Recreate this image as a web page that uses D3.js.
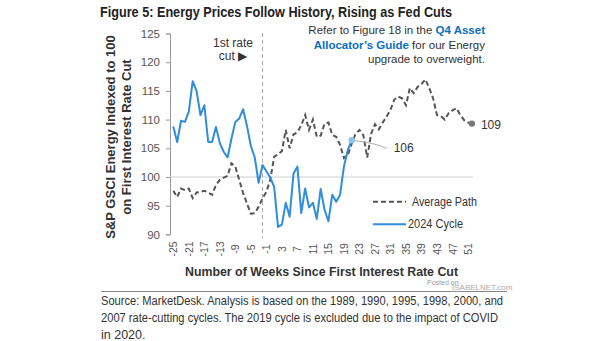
<!DOCTYPE html>
<html>
<head>
<meta charset="utf-8">
<script src="https://cdn.jsdelivr.net/npm/d3@7"></script>
<style>
  body { margin: 0; background: #fff; }
  svg { display: block; font-family: "Liberation Sans", Arial, sans-serif; }
</style>
</head>
<body>
<div id="chart"></div>
<script>
// Data -----------------------------------------------------------------------
const firstWeek = -25;
const avgPath = [
  97.6, 96.5, 98.0, 97.7, 98.0, 96.3, 97.3, 97.4, 97.6, 97.3,
  96.9, 98.6, 99.5, 99.9, 100.2, 102.4, 101.8, 99.5, 97.2, 95.4,
  93.6, 93.7, 94.8, 96.3, 97.4, 99.5, 103.5, 104.0, 104.5, 108.2,
  105.0, 107.4, 107.8, 109.0, 110.8, 108.2, 110.0, 107.0, 107.2, 109.3,
  109.5, 107.3, 107.0, 105.6, 103.3, 103.8, 105.8, 107.5, 108.2, 107.3,
  103.4, 107.5, 109.2, 108.3, 109.5, 110.5, 111.7, 113.5, 114.0, 113.7,
  112.5, 115.5, 114.6, 115.7, 116.2, 117.0, 115.5, 113.7, 110.8, 110.6,
  110.0, 111.1, 111.6, 112.0, 110.8, 109.9, 109.5, 109.3
];
const cycle2024 = [
  108.8, 106.1, 109.8, 109.6, 111.4, 116.7, 115.0, 110.8, 112.5, 106.1,
  106.1, 108.7, 105.9, 104.4, 103.4, 106.7, 109.6, 110.2, 111.8, 108.9,
  105.4, 103.4, 99.0, 102.1, 101.0, 99.9, 98.3, 91.3, 91.7, 95.5,
  93.1, 100.6, 101.8, 93.7, 98.0, 94.7, 95.5, 92.7, 97.9, 94.3,
  92.3, 96.9, 95.7, 96.9, 101.8, 104.7, 106.4
];
const xTicks = [-25, -21, -17, -13, -9, -5, -1, 3, 7, 11, 15, 19, 23, 27, 31, 35, 39, 43, 47, 51];
const yTicks = [90, 95, 100, 105, 110, 115, 120, 125];
const cutWeek = -2;
const seriesNames = ["Average Path", "2024 Cycle"];

// Canvas ---------------------------------------------------------------------
const width = 605;
const height = 341;
const blue = "#2f8ddb";
const grey = "#555";

const svg = d3.select("#chart")
  .append("svg")
  .attr("width", width)
  .attr("height", height);

const xScale = d3.scaleLinear().domain([-25, 52]).range([173.3, 471.9]);
const yScale = d3.scaleLinear().domain([90, 125]).range([234.4, 33.5]);

const toPoints = arr => arr.map((v, i) => ({ week: firstWeek + i, value: v }));
const avgData = toPoints(avgPath);
const cycleData = toPoints(cycle2024);

// Title ----------------------------------------------------------------------
svg.append("text")
  .text("Figure 5: Energy Prices Follow History, Rising as Fed Cuts")
  .attr("x", 100)
  .attr("y", 16.5)
  .attr("textLength", 352)
  .attr("lengthAdjust", "spacingAndGlyphs")
  .style("font-size", "14px")
  .style("font-weight", "bold")
  .style("fill", "#222");

// Axes -----------------------------------------------------------------------
const yAxis = svg.append("g")
  .attr("transform", "translate(170,0)")
  .call(d3.axisLeft(yScale).tickValues(yTicks).tickSize(4).tickPadding(6));
yAxis.select(".domain").attr("stroke", "#999");
yAxis.selectAll(".tick line").attr("stroke", "#999");
yAxis.selectAll("text")
  .style("font-size", "11.5px")
  .style("fill", "#555")
  .style("font-family", "'Liberation Sans', Arial, sans-serif");

svg.append("g")
  .selectAll("text")
  .data(xTicks)
  .join("text")
  .text(d => d)
  .attr("transform", d => "translate(" + xScale(d) + ",249) rotate(-90)")
  .attr("text-anchor", "middle")
  .attr("dominant-baseline", "central")
  .style("font-size", "10.5px")
  .style("fill", "#555");

svg.append("text")
  .text("Number of Weeks Since First Interest Rate Cut")
  .attr("x", 185)
  .attr("y", 276)
  .attr("textLength", 273)
  .attr("lengthAdjust", "spacingAndGlyphs")
  .style("font-size", "13px")
  .style("font-weight", "bold")
  .style("fill", "#333");

const yLabel = svg.append("text")
  .attr("transform", "translate(0,137) rotate(-90)")
  .attr("text-anchor", "middle")
  .style("font-size", "13px")
  .style("font-weight", "bold")
  .style("fill", "#333");
yLabel.append("tspan").attr("x", 0).attr("y", 115).text("S&P GSCI Energy Indexed to 100");
yLabel.append("tspan").attr("x", 0).attr("y", 131).text("on First Interest Rate Cut");

// Reference lines ------------------------------------------------------------
svg.append("line")
  .attr("x1", 170).attr("x2", xScale(52) + 1)
  .attr("y1", yScale(100)).attr("y2", yScale(100))
  .attr("stroke", "#cfcfcf")
  .attr("stroke-width", 1);

svg.append("line")
  .attr("x1", xScale(cutWeek)).attr("x2", xScale(cutWeek))
  .attr("y1", 33).attr("y2", 238)
  .attr("stroke", "#aaa")
  .attr("stroke-width", 1)
  .attr("stroke-dasharray", "4,3");

// Lines ----------------------------------------------------------------------
const line = d3.line()
  .x(d => xScale(d.week))
  .y(d => yScale(d.value));

svg.append("path")
  .datum(avgData)
  .attr("d", line)
  .attr("fill", "none")
  .attr("stroke", grey)
  .attr("stroke-width", 2)
  .attr("stroke-dasharray", "5,3");

svg.append("path")
  .datum(cycleData)
  .attr("d", line)
  .attr("fill", "none")
  .attr("stroke", blue)
  .attr("stroke-width", 2)
  .attr("stroke-linejoin", "round");

// End markers and labels
const lastAvg = avgData[avgData.length - 1];
const lastCycle = cycleData[cycleData.length - 1];

const lx = xScale(lastCycle.week);
const ly = yScale(lastCycle.value);
svg.append("path")
  .attr("d", d3.line().curve(d3.curveBasis)([[lx, ly], [lx + 22, ly + 3], [lx + 35, ly + 8]]))
  .attr("fill", "none")
  .attr("stroke", "#aaa")
  .attr("stroke-width", 1);

svg.append("circle")
  .attr("cx", lx).attr("cy", ly).attr("r", 3.2)
  .attr("fill", "#8cc3ec");

svg.append("text")
  .text(Math.round(lastCycle.value))
  .attr("x", lx + 42)
  .attr("y", ly + 8)
  .attr("dominant-baseline", "central")
  .style("font-size", "12px")
  .style("fill", "#333");

svg.append("circle")
  .attr("cx", xScale(lastAvg.week)).attr("cy", yScale(lastAvg.value)).attr("r", 3.2)
  .attr("fill", "#777");

svg.append("text")
  .text(Math.round(lastAvg.value))
  .attr("x", xScale(lastAvg.week) + 9)
  .attr("y", yScale(lastAvg.value) + 1)
  .attr("dominant-baseline", "central")
  .style("font-size", "12px")
  .style("fill", "#333");

// Legend ---------------------------------------------------------------------
const legendWidths = [65, 55];
const legend = svg.append("g");
seriesNames.forEach(function(name, i) {
  const ly2 = 201.7 + i * 22.6;
  legend.append("line")
    .attr("x1", 373).attr("x2", 406)
    .attr("y1", ly2).attr("y2", ly2)
    .attr("stroke", i == 0 ? grey : blue)
    .attr("stroke-width", 2)
    .attr("stroke-dasharray", i == 0 ? "5,3" : null);
  legend.append("text")
    .text(name)
    .attr("x", i == 0 ? 412 : 408)
    .attr("y", ly2)
    .attr("dominant-baseline", "central")
    .attr("textLength", legendWidths[i])
    .attr("lengthAdjust", "spacingAndGlyphs")
    .style("font-size", "12px")
    .style("fill", "#333");
});

// Annotations ----------------------------------------------------------------
const cutNote = svg.append("text")
  .attr("text-anchor", "middle")
  .style("font-size", "12px")
  .style("fill", "#333");
cutNote.append("tspan").attr("x", 233).attr("y", 47).text("1st rate");
cutNote.append("tspan").attr("x", 233).attr("y", 60).text("cut \u25B6");

const note = svg.append("text")
  .attr("text-anchor", "end")
  .style("font-size", "11.5px")
  .style("fill", "#333");
const n1 = note.append("tspan").attr("x", 485).attr("y", 34);
n1.append("tspan").text("Refer to Figure 18 in the ");
n1.append("tspan").text("Q4 Asset").style("font-weight", "bold").style("fill", "#0a6ec4");
const n2 = note.append("tspan").attr("x", 485).attr("y", 48.5);
n2.append("tspan").text("Allocator\u2019s Guide").style("font-weight", "bold").style("fill", "#0a6ec4");
n2.append("tspan").text(" for our Energy");
note.append("tspan").attr("x", 485).attr("y", 63).text("upgrade to overweight.");

// Source ---------------------------------------------------------------------
svg.append("line")
  .attr("x1", 101).attr("x2", 507)
  .attr("y1", 291.5).attr("y2", 291.5)
  .attr("stroke", "#888")
  .attr("stroke-width", 1);

svg.append("text")
  .text("Posted on")
  .attr("x", 427).attr("y", 285)
  .style("font-size", "7px")
  .style("fill", "#999");
svg.append("text")
  .text("ISABELNET.com")
  .attr("x", 452).attr("y", 290)
  .style("font-size", "8px")
  .style("fill", "#aaa");

const sourceLines = [
  "Source: MarketDesk. Analysis is based on the 1989, 1990, 1995, 1998, 2000, and",
  "2007 rate-cutting cycles. The 2019 cycle is excluded due to the impact of COVID",
  "in 2020."
];
const sourceWidths = [402, 397, null];
svg.append("g")
  .selectAll("text")
  .data(sourceLines)
  .join("text")
  .text(d => d)
  .attr("x", 101)
  .attr("y", (d, i) => 305 + i * 17)
  .attr("textLength", (d, i) => sourceWidths[i])
  .attr("lengthAdjust", "spacingAndGlyphs")
  .style("font-size", "12.5px")
  .style("fill", "#333");
</script>
</body>
</html>
